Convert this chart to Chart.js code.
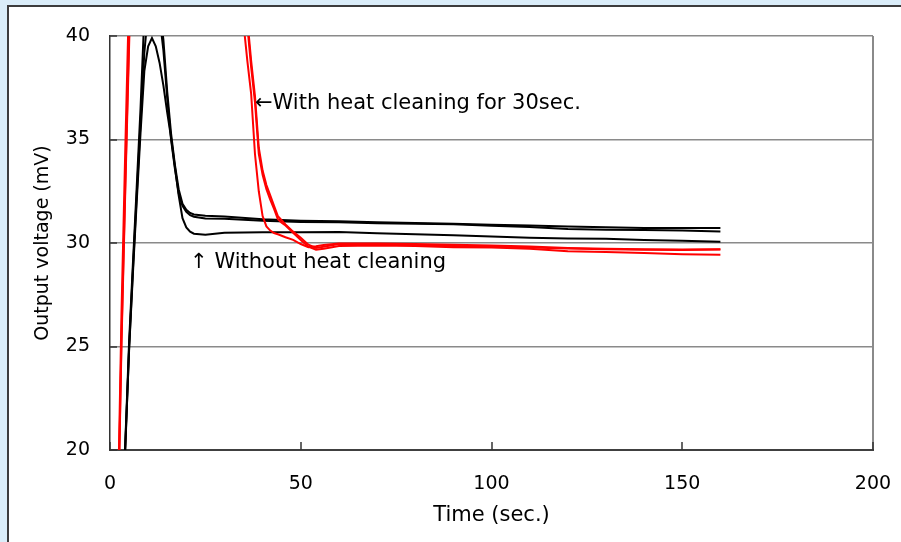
<!DOCTYPE html>
<html>
<head>
<meta charset="utf-8">
<script src="https://cdn.jsdelivr.net/npm/chart.js@4.4.1/dist/chart.umd.min.js"></script>
<style>
  html, body { margin: 0; padding: 0; background: #daedf9; }
  canvas { display: block; }
</style>
</head>
<body>
<canvas id="myChart" width="901" height="542"></canvas>
<script>
// time axis (sec.) for the runs without heat cleaning
const blackTime = [0, 2, 3, 4, 5, 6, 7, 8, 9, 10, 11, 12, 13, 14, 15, 16, 17, 18, 19, 20, 21, 22, 25, 30,
  40, 50, 60, 70, 80, 90, 100, 110, 120, 130, 140, 150, 160];
const noCleanA = [5, 12, 16, 20.3, 25.2, 29, 32.7, 36.5, 41, 43.5, 44, 43, 41.5, 39.8, 37.3, 35.3, 33.8, 32.6, 31.9, 31.6, 31.45, 31.38, 31.32, 31.28,
  31.15, 31.08, 31.05, 31.0, 30.97, 30.93, 30.88, 30.84, 30.8, 30.76, 30.73, 30.72, 30.72];
const noCleanB = [5, 12, 16, 20, 24.9, 28.7, 32.3, 35.8, 39.2, 41.2, 42.2, 41.9, 40.9, 39.3, 37, 35, 33.6, 32.4, 31.8, 31.5, 31.35, 31.27, 31.18, 31.17,
  31.07, 31.02, 31.0, 30.95, 30.93, 30.9, 30.83, 30.77, 30.68, 30.64, 30.63, 30.6, 30.55];
const noCleanC = [5, 12, 16, 20.2, 24.8, 28.5, 32, 35.3, 38.3, 39.5, 39.9, 39.5, 38.7, 37.6, 36.3, 35.1, 33.7, 32.3, 31.2, 30.75, 30.55, 30.45, 30.4, 30.5,
  30.52, 30.52, 30.53, 30.47, 30.42, 30.37, 30.32, 30.25, 30.22, 30.2, 30.14, 30.11, 30.06];

// time axis (sec.) for the runs with heat cleaning for 30 sec.
const redTime = [0, 2, 3, 4, 5, 6, 10, 20, 30, 34, 35, 36, 37, 38, 39, 40, 41, 42, 43, 44, 45, 46, 48, 50, 52, 54, 56,
  60, 70, 80, 90, 100, 110, 120, 130, 140, 150, 160];
const cleanA = [5, 16.5, 26.5, 34.5, 42, 49, 70, 72, 60, 44, 40.6, 38.8, 37.2, 34.3, 32.5, 31.3, 30.8, 30.6, 30.48, 30.42, 30.35, 30.28, 30.15, 29.95, 29.8, 29.84, 29.9,
  29.98, 29.97, 29.95, 29.92, 29.88, 29.83, 29.76, 29.72, 29.7, 29.69, 29.7];
const cleanB = [5, 15.5, 25, 32.5, 39.5, 46, 66, 70, 62, 47, 43, 40.5, 38.5, 36.8, 34.3, 33.3, 32.6, 32.1, 31.65, 31.15, 30.98, 30.85, 30.5, 30.15, 29.82, 29.68, 29.72,
  29.85, 29.88, 29.85, 29.8, 29.78, 29.72, 29.6, 29.57, 29.52, 29.46, 29.43];
const cleanC = [5, 15.8, 25.3, 32.8, 40, 47, 67, 71, 61, 46, 43.5, 40.8, 38.8, 37.1, 34.6, 33.5, 32.8, 32.3, 31.8, 31.3, 31.1, 30.9, 30.55, 30.25, 29.92, 29.76, 29.82,
  29.95, 29.93, 29.9, 29.86, 29.82, 29.78, 29.73, 29.7, 29.67, 29.66, 29.68];

const notes = [
  { text: '\u2190With heat cleaning for 30sec.', x: 38, y: 36.75 },
  { text: '\u2191 Without heat cleaning', x: 21, y: 29.05 }
];

const FONT = "'DejaVu Sans', sans-serif";
const pts = (xs, ys) => xs.map((x, i) => ({ x: x, y: ys[i] }));

const frame = {
  id: 'frame',
  beforeDraw(chart) {
    const c = chart.ctx;
    c.save();
    c.fillStyle = '#daedf9';
    c.fillRect(0, 0, chart.width, chart.height);
    c.fillStyle = '#ffffff';
    c.fillRect(9, 7, chart.width - 9, chart.height - 7);
    c.fillStyle = '#3c3c3c';
    c.fillRect(7, 5, 2, chart.height - 5);
    c.fillRect(7, 5, chart.width - 7, 2);
    c.restore();
  }
};

const innerTicks = {
  id: 'innerTicks',
  afterDraw(chart) {
    const { ctx, chartArea } = chart;
    const x = chart.scales.x, y = chart.scales.y;
    ctx.save();
    ctx.strokeStyle = '#333';
    ctx.lineWidth = 1.5;
    x.ticks.forEach(t => {
      const px = Math.round(x.getPixelForValue(t.value));
      ctx.beginPath();
      ctx.moveTo(px, chartArea.bottom);
      ctx.lineTo(px, chartArea.bottom - 8);
      ctx.stroke();
    });
    y.ticks.forEach(t => {
      const py = Math.round(y.getPixelForValue(t.value));
      ctx.beginPath();
      ctx.moveTo(chartArea.left, py);
      ctx.lineTo(chartArea.left + 7, py);
      ctx.stroke();
    });
    ctx.fillStyle = '#000';
    ctx.font = '21px ' + FONT;
    ctx.textBaseline = 'middle';
    ctx.textAlign = 'left';
    notes.forEach(n => {
      ctx.fillText(n.text, x.getPixelForValue(n.x), y.getPixelForValue(n.y));
    });
    ctx.restore();
  }
};

const line = (data, color) => ({
  data: data,
  borderColor: color,
  backgroundColor: color,
  borderWidth: 2,
  pointRadius: 0,
  showLine: true,
  tension: 0
});

const ctx = document.getElementById('myChart').getContext('2d');
const myChart = new Chart(ctx, {
  type: 'scatter',
  data: {
    datasets: [
      line(pts(redTime, cleanA), '#ff0000'),
      line(pts(redTime, cleanB), '#ff0000'),
      line(pts(redTime, cleanC), '#ff0000'),
      line(pts(blackTime, noCleanA), '#000000'),
      line(pts(blackTime, noCleanB), '#000000'),
      line(pts(blackTime, noCleanC), '#000000')
    ]
  },
  options: {
    responsive: false,
    animation: false,
    layout: { padding: { left: 0, top: 36, right: 28, bottom: 0 } },
    plugins: {
      legend: { display: false },
      tooltip: { enabled: false }
    },
    scales: {
      x: {
        type: 'linear',
        min: 0,
        max: 200,
        afterFit: (scale) => {
          scale.height = 92;
          scale.paddingLeft = 0;
          scale.paddingRight = 0;
        },
        ticks: { stepSize: 50, color: '#000', padding: 23, font: { family: FONT, size: 19 } },
        grid: {
          drawTicks: false,
          lineWidth: 2,
          color: (c) => c.tick && c.tick.value === 200 ? '#8a8a8a' : 'rgba(0,0,0,0)'
        },
        border: { color: '#404040', width: 2 },
        title: {
          display: true,
          text: 'Time (sec.)',
          color: '#000',
          font: { family: FONT, size: 21 },
          padding: { top: 0, bottom: 14 }
        }
      },
      y: {
        min: 20,
        max: 40,
        afterFit: (scale) => {
          scale.width = 110;
          scale.paddingTop = 0;
          scale.paddingBottom = 0;
        },
        ticks: { stepSize: 5, color: '#000', padding: 20, font: { family: FONT, size: 19 } },
        grid: { drawTicks: false, color: '#8a8a8a', lineWidth: 1.6 },
        border: { color: '#333', width: 1.5 },
        title: {
          display: true,
          text: 'Output voltage (mV)',
          color: '#000',
          font: { family: FONT, size: 19 },
          padding: { top: 32, bottom: 0 }
        }
      }
    }
  },
  plugins: [frame, innerTicks]
});
</script>
</body>
</html>
